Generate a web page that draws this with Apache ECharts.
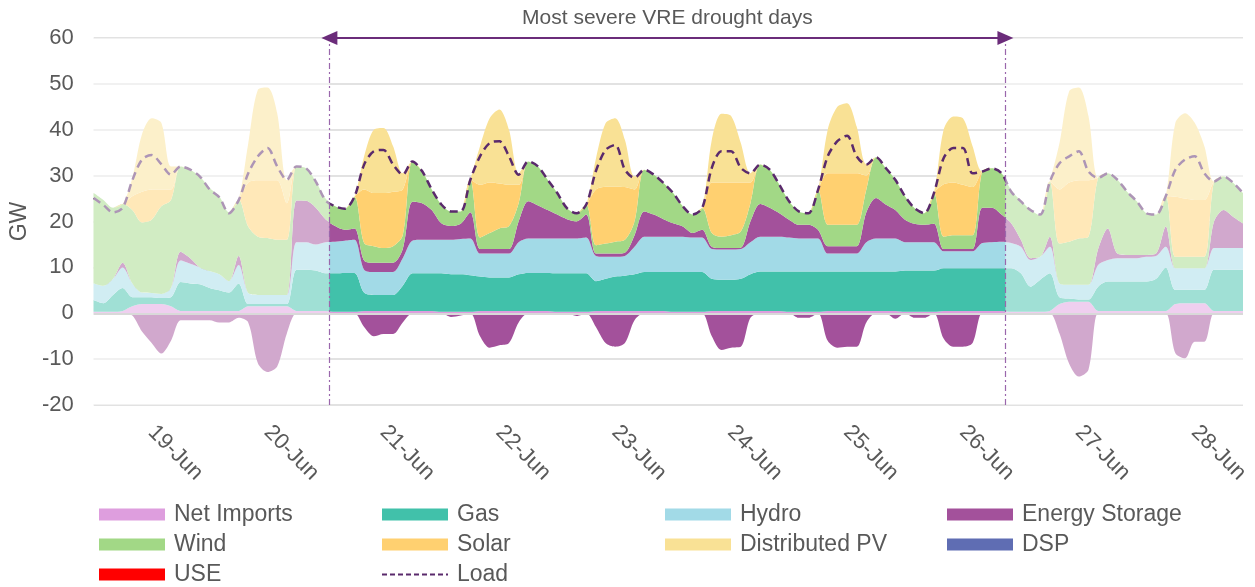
<!DOCTYPE html>
<html>
<head>
<meta charset="utf-8">
<title>VRE drought</title>
<script src="https://cdn.jsdelivr.net/npm/echarts@6.0.0/dist/echarts.min.js"></script>
<style>
    html, body { margin: 0; padding: 0; background: #fff; }
    #chart { width: 1255px; height: 587px; }
</style>
</head>
<body>
<div id="chart"></div>
<script>
// days shown on the axis, one point every 2 hours from 19-Jun 00:00
var days = ['19-Jun', '20-Jun', '21-Jun', '22-Jun', '23-Jun', '24-Jun', '25-Jun', '26-Jun', '27-Jun', '28-Jun'];
var hours = ['00', '02', '04', '06', '08', '10', '12', '14', '16', '18', '20', '22'];
var stepHours = 2;
var yTicks = [-20, 0, 20, 40, 60];
// drought window, in hours from the first point
var droughtHours = [48.8, 188.8];

// GW, 12 values per day
var netImports = [
    0.3, 0.3, 0.3, 0.5, 1.5, 2.0, 2.0, 2.0, 1.5, 0.5, 0.5, 0.5,
    0.5, 0.5, 0.5, 0.5, 1.5, 1.5, 1.5, 1.5, 1.5, 0.5, 0.5, 0.5,
    0.5, 0.3, 0.3, 0.3, 0.5, 0.5, 0.5, 0.5, 0.5, 0.5, 0.5, 0.5,
    0.3, 0.3, 0.3, 0.3, 0.5, 0.5, 0.5, 0.5, 0.5, 0.5, 0.5, 0.5,
    0.3, 0.3, 0.3, 0.3, 0.5, 0.5, 0.5, 0.5, 0.5, 0.5, 0.5, 0.5,
    0.3, 0.3, 0.3, 0.3, 0.5, 0.5, 0.5, 0.5, 0.5, 0.5, 0.5, 0.5,
    0.3, 0.3, 0.3, 0.3, 0.5, 0.5, 0.5, 0.5, 0.5, 0.5, 0.5, 0.5,
    0.3, 0.3, 0.3, 0.3, 0.5, 0.5, 0.5, 0.5, 0.5, 0.5, 0.5, 0.3,
    0.3, 0.3, 0.3, 0.5, 2.0, 2.5, 2.5, 2.5, 0.5, 0.5, 0.5, 0.5,
    0.5, 0.5, 0.5, 0.5, 2.0, 2.2, 2.2, 2.2, 0.5, 0.5, 0.5, 0.5
];
var gas = [
    2.6, 1.9, 3.7, 5.0, 2.0, 1.5, 1.5, 1.3, 2.0, 6.3, 6.0, 5.8,
    5.0, 4.5, 4.0, 6.0, 0.5, 0.5, 0.5, 0.5, 0.5, 9.0, 9.0, 8.8,
    8.2, 8.4, 8.5, 8.5, 4.0, 3.5, 3.5, 3.5, 5.5, 8.2, 8.2, 8.2,
    8.4, 8.2, 8.2, 8.0, 7.5, 7.3, 7.3, 7.3, 8.0, 8.3, 8.3, 8.3,
    8.4, 8.4, 8.4, 8.4, 6.5, 7.0, 7.5, 7.7, 8.0, 8.5, 8.5, 8.5,
    8.7, 8.7, 8.7, 8.7, 7.0, 6.8, 6.8, 7.0, 8.0, 8.6, 8.6, 8.6,
    8.8, 8.8, 8.8, 8.8, 8.6, 8.6, 8.6, 8.6, 8.6, 8.6, 8.6, 8.6,
    9.0, 9.0, 9.0, 9.0, 9.3, 9.3, 9.3, 9.3, 9.3, 9.3, 9.3, 9.5,
    8.4, 5.5, 7.0, 8.2, 1.5, 0.7, 0.5, 0.5, 5.3, 6.4, 6.4, 6.4,
    6.4, 6.4, 7.0, 9.5, 3.1, 2.9, 2.9, 2.9, 9.0, 9.0, 9.0, 9.0
];
var hydro = [
    3.6, 3.8, 3.5, 4.5, 3.0, 1.0, 0.9, 0.9, 2.0, 4.7, 4.3, 3.7,
    3.7, 3.5, 2.5, 4.0, 2.4, 2.0, 2.0, 2.0, 2.0, 6.0, 6.0, 5.7,
    6.8, 6.9, 7.0, 7.2, 5.0, 5.0, 5.0, 5.0, 6.0, 7.1, 7.3, 7.3,
    7.3, 7.5, 7.7, 8.0, 5.0, 5.2, 5.2, 5.2, 7.0, 7.5, 7.5, 7.5,
    7.6, 7.6, 7.6, 7.8, 5.5, 4.8, 4.3, 4.3, 6.0, 7.7, 7.7, 7.7,
    7.7, 7.7, 7.5, 7.5, 6.5, 6.6, 6.6, 6.5, 7.0, 7.6, 7.6, 7.6,
    7.4, 7.2, 7.2, 7.2, 3.9, 3.9, 3.9, 3.9, 6.4, 7.2, 7.2, 7.2,
    6.2, 6.2, 6.2, 6.2, 3.7, 3.7, 3.7, 3.7, 5.5, 5.7, 5.8, 5.5,
    5.8, 5.8, 5.0, 5.8, 3.0, 3.0, 3.2, 3.2, 4.7, 4.7, 5.1, 5.1,
    5.1, 5.4, 5.0, 4.5, 4.7, 4.7, 4.7, 4.7, 4.7, 4.7, 4.7, 4.7
];
var storageDischarge = [
    0, 0, 0, 1.0, 0, 0, 0, 0, 0, 1.9, 1.2, 0,
    0, 0, 0, 2.0, 0, 0, 0, 0, 0, 9.1, 9.0, 8.0,
    5.0, 3.4, 2.4, 2.5, 2.0, 2.0, 2.0, 2.0, 2.0, 8.5, 8.0, 6.5,
    3.6, 3.0, 3.3, 5.7, 1.0, 1.0, 1.0, 1.0, 4.5, 8.1, 7.2, 6.2,
    5.2, 4.2, 3.7, 5.0, 0.5, 0.7, 0.7, 0.7, 2.5, 5.5, 4.8, 3.8,
    2.9, 2.2, 1.0, 1.7, 0.5, 0.3, 0.3, 0.3, 4.5, 7.1, 6.3, 5.1,
    3.9, 3.0, 3.0, 1.9, 1.6, 1.6, 1.6, 1.6, 6.5, 8.8, 7.4, 6.2,
    4.9, 4.0, 3.8, 4.0, 0.5, 0.5, 0.5, 0.5, 7.7, 7.5, 5.9, 4.3,
    1.5, 0.4, 0, 2.2, 0, 0, 0, 0, 3.5, 6.9, 1.0, 0.7,
    0.7, 0.4, 0.5, 4.4, 0, 0, 0, 0, 5.8, 8.3, 6.8, 5.4
];
var storageCharge = [
    0, 0, 0, 0, -0.5, -4.0, -6.5, -8.8, -6.0, -1.5, -1.5, -1.5,
    -1.5, -2.0, -2.0, -1.0, -2.0, -10.9, -12.8, -11.6, -4.4, 0, 0, 0,
    0, 0, 0, 0, -3.0, -5.0, -4.5, -4.5, -2.0, 0, 0, 0,
    0, -0.8, -0.5, 0, -5.0, -7.5, -7.0, -6.5, -2.0, 0, 0, 0,
    0, 0, -0.6, 0, -3.0, -6.5, -7.3, -6.5, -1.5, 0, 0, 0,
    0, 0, 0, 0, -5.0, -8.0, -7.5, -7.3, -1.0, 0, 0, 0,
    0, -1.0, -1.0, 0, -6.0, -7.5, -7.3, -7.3, -2.0, 0, 0, -1.2,
    0, -1.0, -1.0, 0, -5.5, -7.3, -7.3, -6.5, 0, 0, 0, 0,
    0, 0, 0, 0, -4.4, -11.0, -13.8, -12.3, 0, 0, 0, 0,
    0, 0, 0, 0, -8.7, -9.8, -6.2, -6.2, 0, 0, 0, 0
];
var wind = [
    19.7, 18.7, 15.5, 12.8, 16.0, 15.3, 16.0, 19.1, 19.2, 18.6, 19.3, 19.8,
    18.1, 17.0, 15.0, 12.3, 14.5, 12.7, 12.4, 12.0, 12.0, 7.4, 7.1, 5.7,
    4.5, 4.3, 4.6, 6.9, 3.8, 3.6, 3.2, 3.6, 3.0, 8.8, 7.0, 4.5,
    4.1, 3.2, 2.7, 7.1, 2.5, 3.5, 4.5, 5.0, 4.0, 8.7, 8.5, 6.6,
    4.7, 2.4, 1.8, 2.2, 1.8, 2.2, 2.6, 2.8, 3.0, 9.1, 8.7, 7.9,
    6.6, 4.4, 4.0, 4.7, 3.0, 2.5, 2.8, 3.5, 4.0, 8.6, 8.3, 6.2,
    4.0, 2.9, 2.5, 8.7, 4.7, 4.7, 4.7, 4.7, 5.0, 8.9, 8.0, 6.6,
    5.1, 3.4, 2.5, 6.7, 2.7, 3.0, 3.0, 3.0, 7.9, 8.6, 9.0, 7.2,
    8.5, 10.5, 9.0, 12.0, 8.7, 9.4, 10.1, 10.5, 15.5, 12.0, 16.1, 13.8,
    11.7, 9.1, 8.5, 6.6, 2.5, 2.5, 2.5, 2.5, 8.7, 7.3, 7.4, 6.6
];
var solar = [
    0, 0, 0, 0, 3.0, 6.7, 6.6, 3.7, 2.3, 0, 0, 0,
    0, 0, 0, 0, 9.6, 12.3, 12.6, 13.0, 8.0, 0, 0, 0,
    0, 0, 0, 0, 11.7, 11.6, 12.0, 11.9, 10.0, 0, 0, 0,
    0, 0, 0, 0, 11.5, 11.0, 9.8, 9.0, 4.0, 0, 0, 0,
    0, 0, 0, 0, 12.2, 12.4, 12.0, 11.5, 7.0, 0, 0, 0,
    0, 0, 0, 0, 11.0, 11.8, 11.5, 10.7, 4.5, 0, 0, 0,
    0, 0, 0, 0, 11.2, 11.2, 11.2, 11.2, 3.0, 0, 0, 0,
    0, 0, 0, 0, 11.4, 11.5, 11.0, 10.5, 0, 0, 0, 0,
    0, 0, 0, 0, 11.8, 12.9, 12.7, 12.3, 0, 0, 0, 0,
    0, 0, 0, 0, 13.1, 12.7, 12.4, 12.4, 0, 0, 0, 0
];
var distributedPV = [
    0, 0, 0, 0, 4.0, 12.5, 15.5, 14.5, 5.0, 0, 0, 0,
    0, 0, 0, 0, 8.5, 19.7, 20.2, 14.6, 5.0, 0, 0, 0,
    0, 0, 0, 0, 7.2, 13.8, 14.2, 9.9, 3.5, 0, 0, 0,
    0, 0, 0, 0, 8.4, 14.0, 16.1, 12.0, 2.5, 0, 0, 0,
    0, 0, 0, 0, 6.7, 13.8, 14.9, 10.3, 2.8, 0, 0, 0,
    0, 0, 0, 0, 9.3, 15.0, 14.5, 8.6, 2.0, 0, 0, 0,
    0, 0, 0, 0, 9.5, 14.5, 15.3, 10.2, 2.5, 0, 0, 0,
    0, 0, 0, 0, 11.9, 14.4, 14.5, 8.9, 0, 0, 0, 0,
    0, 0, 0, 0, 10.1, 19.9, 20.2, 14.0, 0, 0, 0, 0,
    0, 0, 0, 0, 16.1, 18.6, 16.8, 11.7, 0, 0, 0, 0
];
var load = [
    25.1, 23.6, 22.0, 23.0, 29.0, 33.5, 34.5, 32.5, 30.2, 32.0, 31.3, 29.8,
    27.0, 25.3, 21.8, 24.6, 30.5, 34.2, 36.0, 32.0, 29.1, 32.0, 31.6, 28.7,
    24.6, 23.3, 22.8, 25.4, 32.4, 35.3, 35.6, 32.4, 30.2, 33.1, 31.0, 27.0,
    23.7, 22.2, 22.2, 29.1, 34.2, 37.1, 37.5, 34.2, 30.2, 33.1, 32.0, 29.1,
    26.2, 22.9, 21.8, 23.7, 31.0, 35.6, 36.7, 31.3, 29.5, 31.3, 30.2, 28.4,
    26.2, 23.3, 21.5, 22.9, 31.7, 35.3, 35.3, 31.7, 30.5, 32.4, 31.3, 28.0,
    24.4, 22.2, 21.8, 26.9, 34.2, 37.5, 38.7, 34.2, 32.4, 34.0, 31.7, 29.1,
    25.5, 22.9, 21.8, 26.2, 33.8, 36.0, 36.0, 30.5, 30.9, 31.6, 30.5, 26.5,
    24.4, 22.5, 21.5, 28.7, 32.7, 34.2, 35.3, 30.9, 29.5, 30.5, 29.1, 26.5,
    24.4, 21.8, 21.5, 25.5, 31.3, 33.5, 34.2, 30.5, 28.7, 29.8, 28.4, 26.2
];

var colors = {
    'Net Imports': '#DE9EDE',
    'Gas': '#41C1AA',
    'Hydro': '#A2DAE7',
    'Energy Storage': '#A3519B',
    'Wind': '#A2D886',
    'Solar': '#FFD070',
    'Distributed PV': '#F9E195',
    'DSP': '#5F6DB3',
    'USE': '#FF0000',
    'Load': '#5A2A6C'
};
var font = 'Liberation Sans, Arial, sans-serif';
var smoothing = 0.3;
var lastHour = (load.length - 1) * stepHours;

// category per data point, e.g. "19-Jun 06:00"
var times = [];
days.forEach(function (d) {
    hours.forEach(function (h) { times.push(d + ' ' + h + ':00'); });
});

function areaSeries(name, values, stack) {
    return {
        name: name,
        type: 'line',
        stack: stack,
        data: values,
        smooth: smoothing,
        symbol: 'none',
        silent: true,
        lineStyle: { width: 0 },
        itemStyle: { color: colors[name] },
        areaStyle: { color: colors[name], opacity: 1 }
    };
}

function legendColumn(left, names) {
    return {
        orient: 'vertical',
        left: left,
        top: 503,
        padding: 0,
        itemWidth: 66,
        itemHeight: 12,
        itemGap: 7,
        selectedMode: false,
        textStyle: { fontFamily: font, fontSize: 23, color: '#595959', padding: [0, 0, 0, 4] },
        data: names.map(function (n) {
            if (n === 'Load') {
                return { name: n, itemStyle: { opacity: 0 }, lineStyle: { type: [5, 3], width: 2 } };
            }
            return { name: n, icon: 'rect' };
        })
    };
}

var labelHours = days.map(function (d, i) { return i * 24 + 12; });

var myChart = echarts.init(document.getElementById('chart'));
var option = {
    animation: false,
    grid: { left: 92, right: 12, top: 38, bottom: 182 },
    legend: [
        legendColumn(99, ['Net Imports', 'Wind', 'USE']),
        legendColumn(381, ['Gas', 'Solar', 'Load']),
        legendColumn(665, ['Hydro', 'Distributed PV']),
        legendColumn(947, ['Energy Storage', 'DSP'])
    ],
    xAxis: [
        {
            // the data points
            type: 'category',
            data: times,
            boundaryGap: false,
            axisLine: { show: false },
            axisTick: { show: false },
            axisLabel: { show: false },
            splitLine: { show: false }
        },
        {
            // same span in hours, used for the day labels and the drought marks
            type: 'value',
            position: 'bottom',
            min: 0,
            max: lastHour,
            splitLine: { show: false },
            axisLine: { show: false },
            axisTick: { show: false },
            axisLabel: {
                customValues: labelHours,
                rotate: -45,
                margin: 24,
                fontFamily: font,
                fontSize: 22,
                color: '#595959',
                formatter: function (v) { return days[Math.round((v - 12) / 24)]; }
            }
        }
    ],
    yAxis: {
        type: 'value',
        min: yTicks[0],
        max: yTicks[yTicks.length - 1],
        interval: 10,
        name: 'GW',
        nameLocation: 'middle',
        nameRotate: 90,
        nameGap: 58,
        nameTextStyle: { fontFamily: font, fontSize: 23, color: '#595959' },
        axisLine: { show: false },
        axisTick: { show: false },
        axisLabel: { margin: 20, fontFamily: font, fontSize: 22, color: '#595959' },
        splitLine: { lineStyle: { color: '#D9D9D9', width: 1.5 } }
    },
    series: [
        areaSeries('Net Imports', netImports, 'total'),
        areaSeries('Gas', gas, 'total'),
        areaSeries('Hydro', hydro, 'total'),
        areaSeries('Energy Storage', storageDischarge, 'total'),
        areaSeries('Wind', wind, 'total'),
        areaSeries('Solar', solar, 'total'),
        areaSeries('Distributed PV', distributedPV, 'total'),
        // charging goes below zero, not stacked
        areaSeries('Energy Storage', storageCharge, null),
        { name: 'DSP', type: 'line', data: [], itemStyle: { color: colors['DSP'] } },
        { name: 'USE', type: 'line', data: [], itemStyle: { color: colors['USE'] } },
        {
            name: 'Load',
            type: 'line',
            data: load,
            smooth: smoothing,
            symbol: 'none',
            silent: true,
            z: 4,
            itemStyle: { color: colors['Load'] },
            lineStyle: { color: colors['Load'], width: 2.5, type: [8, 5] }
        },
        {
            // fades everything outside the drought window, plus the annotation
            name: 'drought',
            type: 'line',
            xAxisIndex: 1,
            data: [],
            silent: true,
            markArea: {
                z: 10,
                silent: true,
                itemStyle: { color: 'rgba(255,255,255,0.5)' },
                data: [
                    [{ xAxis: 0 }, { xAxis: droughtHours[0] }],
                    [{ xAxis: droughtHours[1] }, { xAxis: lastHour }]
                ]
            },
            markLine: {
                z: 12,
                silent: true,
                symbol: ['none', 'none'],
                label: { show: false },
                data: [
                    { yAxis: 0, lineStyle: { color: '#D9D9D9', width: 2, type: 'solid' } },
                    { xAxis: droughtHours[0], lineStyle: { color: '#9A67AC', width: 1.2, type: [6, 3, 2, 3] } },
                    { xAxis: droughtHours[1], lineStyle: { color: '#9A67AC', width: 1.2, type: [6, 3, 2, 3] } },
                    [
                        { coord: [droughtHours[0], 60], symbol: 'triangle', symbolSize: [14, 16] },
                        {
                            coord: [droughtHours[1], 60], symbol: 'triangle', symbolSize: [14, 16],
                            lineStyle: { color: '#6B2C7A', width: 2, type: 'solid' },
                            label: {
                                show: true,
                                position: 'insideMiddleTop',
                                distance: 9,
                                formatter: 'Most severe VRE drought days',
                                fontFamily: font,
                                fontSize: 21,
                                color: '#595959'
                            }
                        }
                    ]
                ]
            }
        }
    ]
};
myChart.setOption(option);
window.addEventListener('resize', function () {
    myChart.resize();
});
</script>
</body>
</html>
